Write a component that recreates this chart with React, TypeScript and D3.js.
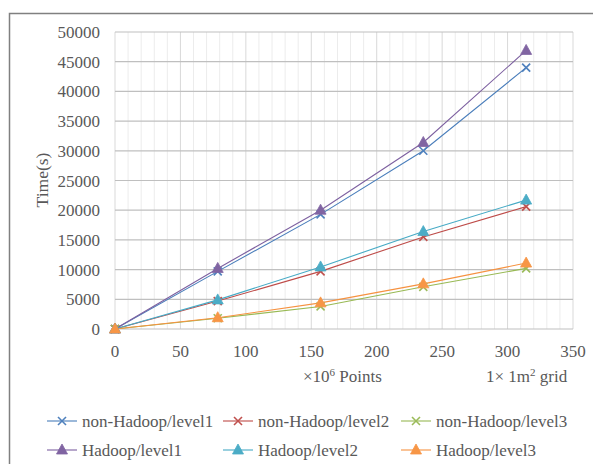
import React from "react";
import * as d3 from "d3";

const xValues = [0, 78.5, 157.1, 235.6, 314.2];
const seriesNames = [
  "non-Hadoop/level1",
  "non-Hadoop/level2",
  "non-Hadoop/level3",
  "Hadoop/level1",
  "Hadoop/level2",
  "Hadoop/level3",
];
const nonHadoopL1 = [0, 9700, 19300, 30000, 44000];
const nonHadoopL2 = [0, 4700, 9700, 15500, 20600];
const nonHadoopL3 = [0, 1800, 3800, 7100, 10200];
const hadoopL1 = [0, 10200, 20000, 31400, 46900];
const hadoopL2 = [0, 4900, 10450, 16400, 21700];
const hadoopL3 = [0, 1900, 4400, 7600, 11100];
const seriesValues = [nonHadoopL1, nonHadoopL2, nonHadoopL3, hadoopL1, hadoopL2, hadoopL3];
const seriesMarkers = ["x", "x", "x", "tri", "tri", "tri"];
const lineColors = ["#4A7EBB", "#BE4B48", "#98B954", "#7D60A0", "#46AAC5", "#F69240"];
const markerColors = ["#4F81BD", "#C0504D", "#9BBB59", "#8064A2", "#4BACC6", "#F79646"];
const xTicks = [0, 50, 100, 150, 200, 250, 300, 350];
const yTicks = [0, 5000, 10000, 15000, 20000, 25000, 30000, 35000, 40000, 45000, 50000];

const W = 593;
const H = 464;
const FONT = "'Liberation Serif', 'Times New Roman', serif";
const TEXT = "#595959";

function Marker({ kind, x, y, color }: { kind: string; x: number; y: number; color: string }) {
  if (kind === "x") {
    const s = 4;
    return (
      <g stroke={color} strokeWidth={1.6}>
        <line x1={x - s} y1={y - s} x2={x + s} y2={y + s} />
        <line x1={x - s} y1={y + s} x2={x + s} y2={y - s} />
      </g>
    );
  }
  const p = `${x},${y - 6} ${x + 5.5},${y + 4} ${x - 5.5},${y + 4}`;
  return <polygon points={p} fill={color} stroke={color} strokeWidth={0.8} />;
}

export default function App() {
  const x = d3.scaleLinear().domain([0, 350]).range([115, 573]);
  const y = d3.scaleLinear().domain([0, 50000]).range([329, 32]);
  const line = d3
    .line<number>()
    .x((_, i) => x(xValues[i]))
    .y((d) => y(d));
  const minorX = d3.range(0, 351, 10);

  const legendCols = [47, 223, 401];
  const legendRows = [421, 450];

  return (
    <svg
      width={W}
      height={H}
      style={{ position: "absolute", left: 0, top: 0, background: "#fff" }}
      fontFamily={FONT}
    >
      <rect x={0} y={0} width={W} height={H} fill="#fff" />
      <rect x={9.5} y={13.5} width={700} height={600} fill="none" stroke="#808080" strokeWidth={1.5} />

      {/* minor vertical grid */}
      {minorX.map((v) => (
        <line
          key={"mx" + v}
          x1={x(v)}
          x2={x(v)}
          y1={y(50000)}
          y2={y(0)}
          stroke={v % 50 === 0 ? "#d9d9d9" : "#ececec"}
          strokeWidth={1}
        />
      ))}
      {/* horizontal grid */}
      {yTicks.map((v) => (
        <line
          key={"gy" + v}
          x1={x(0)}
          x2={x(350)}
          y1={y(v)}
          y2={y(v)}
          stroke="#bfbfbf"
          strokeWidth={1.2}
        />
      ))}

      {/* y tick labels */}
      {yTicks.map((v) => (
        <text key={"ty" + v} x={100} y={y(v) + 6} textAnchor="end" fontSize={17} fill={TEXT}>
          {v}
        </text>
      ))}
      {/* x tick labels */}
      {xTicks.map((v) => (
        <text key={"tx" + v} x={x(v)} y={357} textAnchor="middle" fontSize={17} fill={TEXT}>
          {v}
        </text>
      ))}

      <text
        transform="translate(48,180) rotate(-90)"
        textAnchor="middle"
        fontSize={17.5}
        fill={TEXT}
      >
        Time(s)
      </text>

      <text x={303} y={382} fontSize={17} fill={TEXT}>
        ×10
        <tspan fontSize={11} dy={-6}>6</tspan>
        <tspan dy={6}> Points</tspan>
      </text>
      <text x={486} y={382} fontSize={17} fill={TEXT}>
        1× 1m
        <tspan fontSize={11} dy={-6}>2</tspan>
        <tspan dy={6}> grid</tspan>
      </text>

      {/* series lines */}
      {seriesValues.map((vals, si) => (
        <path key={"l" + si} d={line(vals) || ""} fill="none" stroke={lineColors[si]} strokeWidth={1.1} />
      ))}
      {/* markers */}
      {seriesValues.map((vals, si) => (
        <g key={"m" + si}>
          {vals.map((v, i) => (
            <Marker key={i} kind={seriesMarkers[si]} x={x(xValues[i])} y={y(v)} color={markerColors[si]} />
          ))}
        </g>
      ))}

      {/* legend */}
      {seriesNames.map((name, si) => {
        const lx = legendCols[si % 3];
        const ly = legendRows[Math.floor(si / 3)];
        return (
          <g key={"lg" + si}>
            <line x1={lx} x2={lx + 30} y1={ly} y2={ly} stroke={lineColors[si]} strokeWidth={1.1} />
            <Marker kind={seriesMarkers[si]} x={lx + 15} y={ly} color={markerColors[si]} />
            <text x={lx + 35} y={ly + 6} fontSize={17} fill={TEXT}>
              {name}
            </text>
          </g>
        );
      })}
    </svg>
  );
}
